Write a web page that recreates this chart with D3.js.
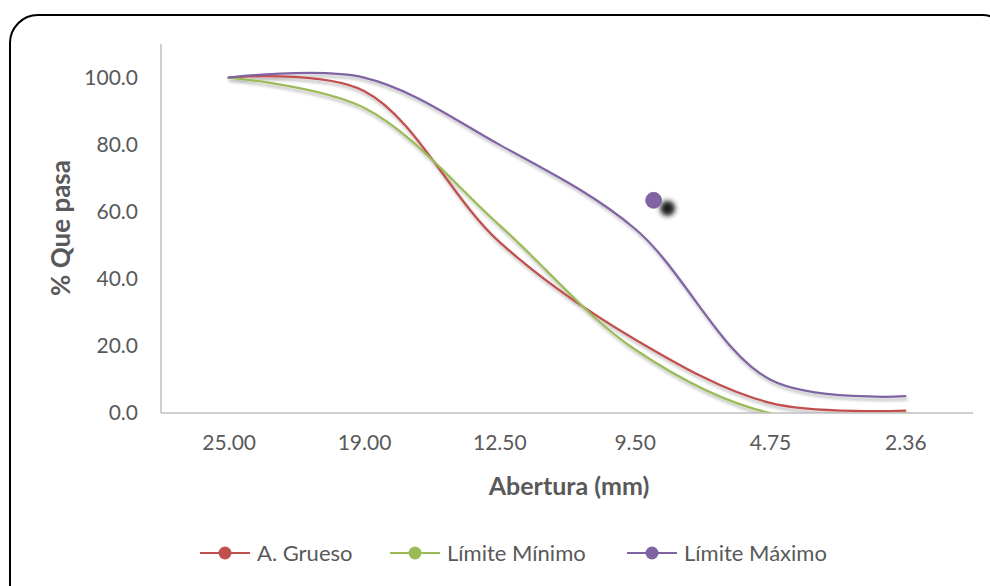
<!DOCTYPE html>
<html>
<head>
<meta charset="utf-8">
<script src="https://cdn.jsdelivr.net/npm/d3@7"></script>
<style>
  html, body { margin: 0; padding: 0; background: #ffffff; }
  svg { display: block; font-family: Lato, "Open Sans", sans-serif; }
</style>
</head>
<body>
<svg id="chart" width="990" height="586"></svg>
<script>
// Sieve openings (mm) along the x axis
const categories = ["25.00", "19.00", "12.50", "9.50", "4.75", "2.36"];

// Percent passing for each curve
const gruesoValues = [100, 96, 51, 22, 3, 0.7];
const minimoValues = [100, 91, 56, 19, 0, 0];
const maximoValues = [100, 100, 80, 55, 10, 5];

// Lone highlighted point (category position, percent passing)
const highlightPoint = { pos: 3.14, value: 63.4 };

const yTicks = [0, 20, 40, 60, 80, 100];

const seriesNames = ["A. Grueso", "Límite Mínimo", "Límite Máximo"];
const seriesColors = ["#C0504D", "#9BBB59", "#8064A2"];
const seriesValues = [gruesoValues, minimoValues, maximoValues];

const svg = d3.select("#chart");
const textColor = "#595959";
const axisColor = "#BFBFBF";

const plot = { left: 161, right: 973, top: 44, bottom: 413 };

const x = d3.scaleLinear()
  .domain([-0.5, categories.length - 0.5])
  .range([plot.left, plot.right]);

const y = d3.scaleLinear()
  .domain([0, 110])
  .range([plot.bottom, plot.top]);

// Shadow filters and plot clip
const defs = svg.append("defs");
const lineShadow = defs.append("filter").attr("id", "lineShadow")
  .attr("x", "-10%").attr("y", "-10%").attr("width", "120%").attr("height", "130%");
lineShadow.append("feDropShadow")
  .attr("dx", 1.5).attr("dy", 3).attr("stdDeviation", 1.6)
  .attr("flood-color", "#000").attr("flood-opacity", 0.28);

const dotShadow = defs.append("filter").attr("id", "dotShadow")
  .attr("x", "-100%").attr("y", "-100%").attr("width", "400%").attr("height", "400%");
dotShadow.append("feGaussianBlur").attr("in", "SourceGraphic").attr("stdDeviation", 2.5);

defs.append("clipPath").attr("id", "plotClip")
  .append("rect")
  .attr("x", plot.left).attr("y", 0)
  .attr("width", plot.right - plot.left)
  .attr("height", plot.bottom - 0.5);

// Rounded chart frame
svg.append("rect")
  .attr("x", 10).attr("y", 15)
  .attr("width", 1000).attr("height", 600)
  .attr("rx", 28).attr("ry", 28)
  .attr("fill", "#ffffff")
  .attr("stroke", "#000000")
  .attr("stroke-width", 2);

// Axis lines
svg.append("line")
  .attr("x1", plot.left).attr("x2", plot.left)
  .attr("y1", plot.top).attr("y2", plot.bottom)
  .attr("stroke", axisColor).attr("stroke-width", 1.5);
svg.append("line")
  .attr("x1", plot.left).attr("x2", plot.right)
  .attr("y1", plot.bottom).attr("y2", plot.bottom)
  .attr("stroke", axisColor).attr("stroke-width", 1.5);

// Y axis tick labels
const yAxis = d3.axisLeft(y)
  .tickValues(yTicks)
  .tickFormat(d3.format(".1f"))
  .tickSize(0)
  .tickPadding(23);
const yg = svg.append("g")
  .attr("transform", `translate(${plot.left},0)`)
  .call(yAxis);
yg.select(".domain").remove();
yg.selectAll("text")
  .attr("fill", textColor)
  .attr("font-size", 21)
  .attr("font-family", "Lato, sans-serif");

// X axis tick labels
const xAxis = d3.axisBottom(x)
  .tickValues(d3.range(categories.length))
  .tickFormat(i => categories[i])
  .tickSize(0)
  .tickPadding(22);
const xg = svg.append("g")
  .attr("transform", `translate(0,${plot.bottom})`)
  .call(xAxis);
xg.select(".domain").remove();
xg.selectAll("text")
  .attr("fill", textColor)
  .attr("font-size", 21)
  .attr("font-family", "Lato, sans-serif");

// Axis titles
svg.append("text")
  .attr("x", 569).attr("y", 495)
  .attr("text-anchor", "middle")
  .attr("fill", textColor)
  .attr("font-size", 25)
  .attr("font-weight", "bold")
  .text("Abertura (mm)");

svg.append("text")
  .attr("transform", "translate(70,228) rotate(-90)")
  .attr("text-anchor", "middle")
  .attr("fill", textColor)
  .attr("font-size", 26)
  .attr("font-weight", "bold")
  .text("% Que pasa");

// Smoothed series lines
const line = d3.line()
  .x((d, i) => x(i))
  .y(d => y(d))
  .curve(d3.curveCatmullRom.alpha(0.5));

const lines = svg.append("g")
  .attr("clip-path", "url(#plotClip)")
  .append("g")
  .attr("filter", "url(#lineShadow)");
seriesValues.forEach((vals, k) => {
  lines.append("path")
    .datum(vals)
    .attr("d", line)
    .attr("fill", "none")
    .attr("stroke", seriesColors[k])
    .attr("stroke-width", 2.25)
    .attr("stroke-linecap", "round");
});

// Highlighted point with its soft shadow
svg.append("circle")
  .attr("cx", x(highlightPoint.pos) + 14)
  .attr("cy", y(highlightPoint.value) + 8)
  .attr("r", 7.5)
  .attr("fill", "#1a1a1a")
  .attr("filter", "url(#dotShadow)");
svg.append("circle")
  .attr("cx", x(highlightPoint.pos))
  .attr("cy", y(highlightPoint.value))
  .attr("r", 8)
  .attr("fill", "#8064A2")
  .attr("stroke", "#7a5f9c")
  .attr("stroke-width", 0.8);

// Legend
const legendItems = [
  { x0: 200, tx: 257 },
  { x0: 390, tx: 447 },
  { x0: 627, tx: 684 }
];
const legend = svg.append("g");
seriesNames.forEach((name, k) => {
  const it = legendItems[k];
  legend.append("line")
    .attr("x1", it.x0).attr("x2", it.x0 + 50)
    .attr("y1", 553).attr("y2", 553)
    .attr("stroke", seriesColors[k]).attr("stroke-width", 2);
  legend.append("circle")
    .attr("cx", it.x0 + 25).attr("cy", 553).attr("r", 6.5)
    .attr("fill", seriesColors[k]);
  legend.append("text")
    .attr("x", it.tx).attr("y", 561)
    .attr("fill", textColor)
    .attr("font-size", 22)
    .text(name);
});
</script>
</body>
</html>
